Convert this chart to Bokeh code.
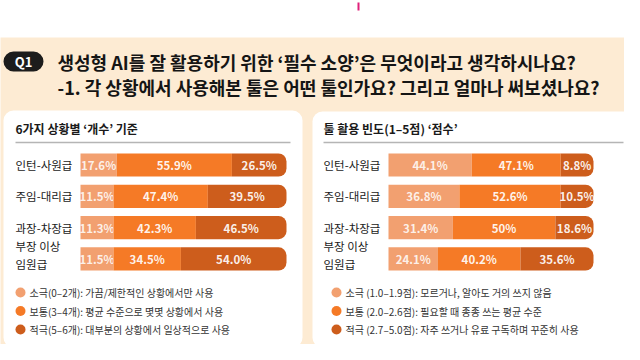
from bokeh.plotting import figure
from bokeh.models import Range1d, ColumnDataSource
from bokeh.core.properties import value
from bokeh.embed import file_html
from bokeh.resources import INLINE
import numpy as np

FONT = "Noto Sans CJK KR"

title_lines = ["생성형 AI를 잘 활용하기 위한 ‘필수 소양’은 무엇이라고 생각하시나요?",
               "-1. 각 상황에서 사용해본 툴은 어떤 툴인가요? 그리고 얼마나 써보셨나요?"]
badge = "Q1"

rows = ["인턴-사원급", "주임-대리급", "과장-차장급", "부장 이상\n임원급"]

left_title = "6가지 상황별 ‘개수’ 기준"
left_low = [17.6, 11.5, 11.3, 11.5]
left_mid = [55.9, 47.4, 42.3, 34.5]
left_high = [26.5, 39.5, 46.5, 54.0]
left_legend = ["소극(0–2개): 가끔/제한적인 상황에서만 사용",
               "보통(3–4개): 평균 수준으로 몇몇 상황에서 사용",
               "적극(5–6개): 대부분의 상황에서 일상적으로 사용"]

right_title = "툴 활용 빈도(1–5점) ‘점수’"
right_low = [44.1, 36.8, 31.4, 24.1]
right_mid = [47.1, 52.6, 50.0, 40.2]
right_high = [8.8, 10.5, 18.6, 35.6]
right_labels_low = ["44.1%", "36.8%", "31.4%", "24.1%"]
right_labels_mid = ["47.1%", "52.6%", "50%", "40.2%"]
right_labels_high = ["8.8%", "10.5%", "18.6%", "35.6%"]
right_legend = ["소극 (1.0–1.9점): 모르거나, 알아도 거의 쓰지 않음",
                "보통 (2.0–2.6점): 필요할 때 종종 쓰는 평균 수준",
                "적극 (2.7–5.0점): 자주 쓰거나 유료 구독하며 꾸준히 사용"]

# smallest visible share of a segment so that its label fits (display only)
MIN_SHARE = 16.0

colors = ["#F2A070", "#F57A26", "#CD5D1C"]
BG = "#FDEBD3"

W, H = 624, 344
p = figure(width=W, height=H, output_backend="svg", toolbar_location=None,
           x_range=Range1d(0, W), y_range=Range1d(H, 0),
           min_border=0, outline_line_color=None, background_fill_color="white",
           border_fill_color="white")
p.axis.visible = False
p.grid.visible = False

# page background
p.quad(left=[-10], right=[W + 10], top=[37], bottom=[H + 10], fill_color=BG, line_color=None)
p.segment(x0=[358], y0=[2], x1=[358], y1=[10], line_color="#E0207A", line_width=2)

# badge + title
p.quad(left=[3], right=[43], top=[51], bottom=[71], fill_color="#1C1C1C", line_color=None,
       border_radius=10)
p.text(x=[23], y=[61], text=[badge], text_color="white", text_font=value(FONT),
       text_font_style="bold", text_font_size="13px", text_align="center", text_baseline="middle")
p.text(x=[57, 57], y=[61, 86], text=title_lines, text_color="#151515", text_font=value(FONT),
       text_font_style="bold", text_font_size="18px", text_baseline="middle")

# cards
p.quad(left=[3, 312], right=[302, 636], top=[110, 111], bottom=[347, 347],
       fill_color="white", line_color=None, border_radius=10)

# bar scales: one x range per card, one shared row scale
bar_left = {"L": (80, 286), "R": (388, 593)}
row_top_c, row_step = 164.5, 31.3
p.extra_y_ranges = {"rows": Range1d((H - row_top_c) / row_step, (0 - row_top_c) / row_step)}
for key, (x0, x1) in bar_left.items():
    k = (x1 - x0) / 100.0
    p.extra_x_ranges[key] = Range1d((0 - x0) / k, (W - x0) / k)


def display_shares(low, mid, high):
    vals = np.array([low, mid, high], dtype=float)
    share = vals / vals.sum(axis=0) * 100.0
    out = share.copy()
    for j in range(share.shape[1]):
        small = share[:, j] < MIN_SHARE
        if small.any():
            rest = 100.0 - MIN_SHARE * small.sum()
            big = ~small
            out[small, j] = MIN_SHARE
            out[big, j] = share[big, j] / share[big, j].sum() * rest
    return out


def card(key, title, tx, sep_x1, low, mid, high, labs, legend, lx):
    p.text(x=[tx], y=[128], text=[title], text_color="#1A1A1A", text_font=value(FONT),
           text_font_style="bold", text_font_size="12px", text_baseline="middle")
    p.segment(x0=[tx], y0=[142], x1=[sep_x1], y1=[142], line_color="#B5B5B5", line_width=1.5)
    idx = np.arange(len(rows))
    share = display_shares(low, mid, high)
    lefts = np.vstack([np.zeros(len(rows)), share[0], share[0] + share[1]])
    rights = lefts + share
    for s in range(3):
        src = ColumnDataSource(dict(y=idx, left=lefts[s], right=rights[s],
                                    mid=(lefts[s] + rights[s]) / 2, lab=labs[s]))
        kw = dict(border_radius=(0, 8, 8, 0)) if s == 2 else {}
        p.hbar(y="y", left="left", right="right", height=0.74, source=src,
               fill_color=colors[s], line_color=None, x_range_name=key, y_range_name="rows", **kw)
        p.text(x="mid", y="y", text="lab", source=src, x_range_name=key, y_range_name="rows",
               text_color="white", text_alpha=0.92 if s else 0.85, text_font=value(FONT),
               text_font_style="bold", text_font_size="11.5px", text_align="center",
               text_baseline="middle")
    # row labels (multi-line labels split into lines)
    lx_, ly_, lt_, lo_ = [], [], [], []
    for i, r in enumerate(rows):
        parts = r.split("\n")
        offs = [0] if len(parts) == 1 else [-13, 5]
        for part, o in zip(parts, offs):
            lx_.append(tx); ly_.append(i); lt_.append(part); lo_.append(o)
    src = ColumnDataSource(dict(x=lx_, y=ly_, t=lt_, o=lo_))
    p.text(x="x", y="y", text="t", y_offset="o", source=src, y_range_name="rows",
           text_color="#1A1A1A", text_font=value(FONT), text_font_size="11.5px",
           text_baseline="middle")
    ly = [292, 310.5, 329]
    p.scatter(x=[lx] * 3, y=ly, size=10, marker="circle", fill_color=colors, line_color=None)
    p.text(x=[lx + 9] * 3, y=ly, text=legend, text_color="#333333", text_font=value(FONT),
           text_font_size="10px", text_baseline="middle")


def pct(v):
    return ["%.1f%%" % x for x in v]


card("L", left_title, 15, 290, left_low, left_mid, left_high,
     [pct(left_low), pct(left_mid), pct(left_high)], left_legend, 20)
card("R", right_title, 323, 623, right_low, right_mid, right_high,
     [right_labels_low, right_labels_mid, right_labels_high], right_legend, 336)

open("out.html", "w").write(file_html(p, INLINE))
